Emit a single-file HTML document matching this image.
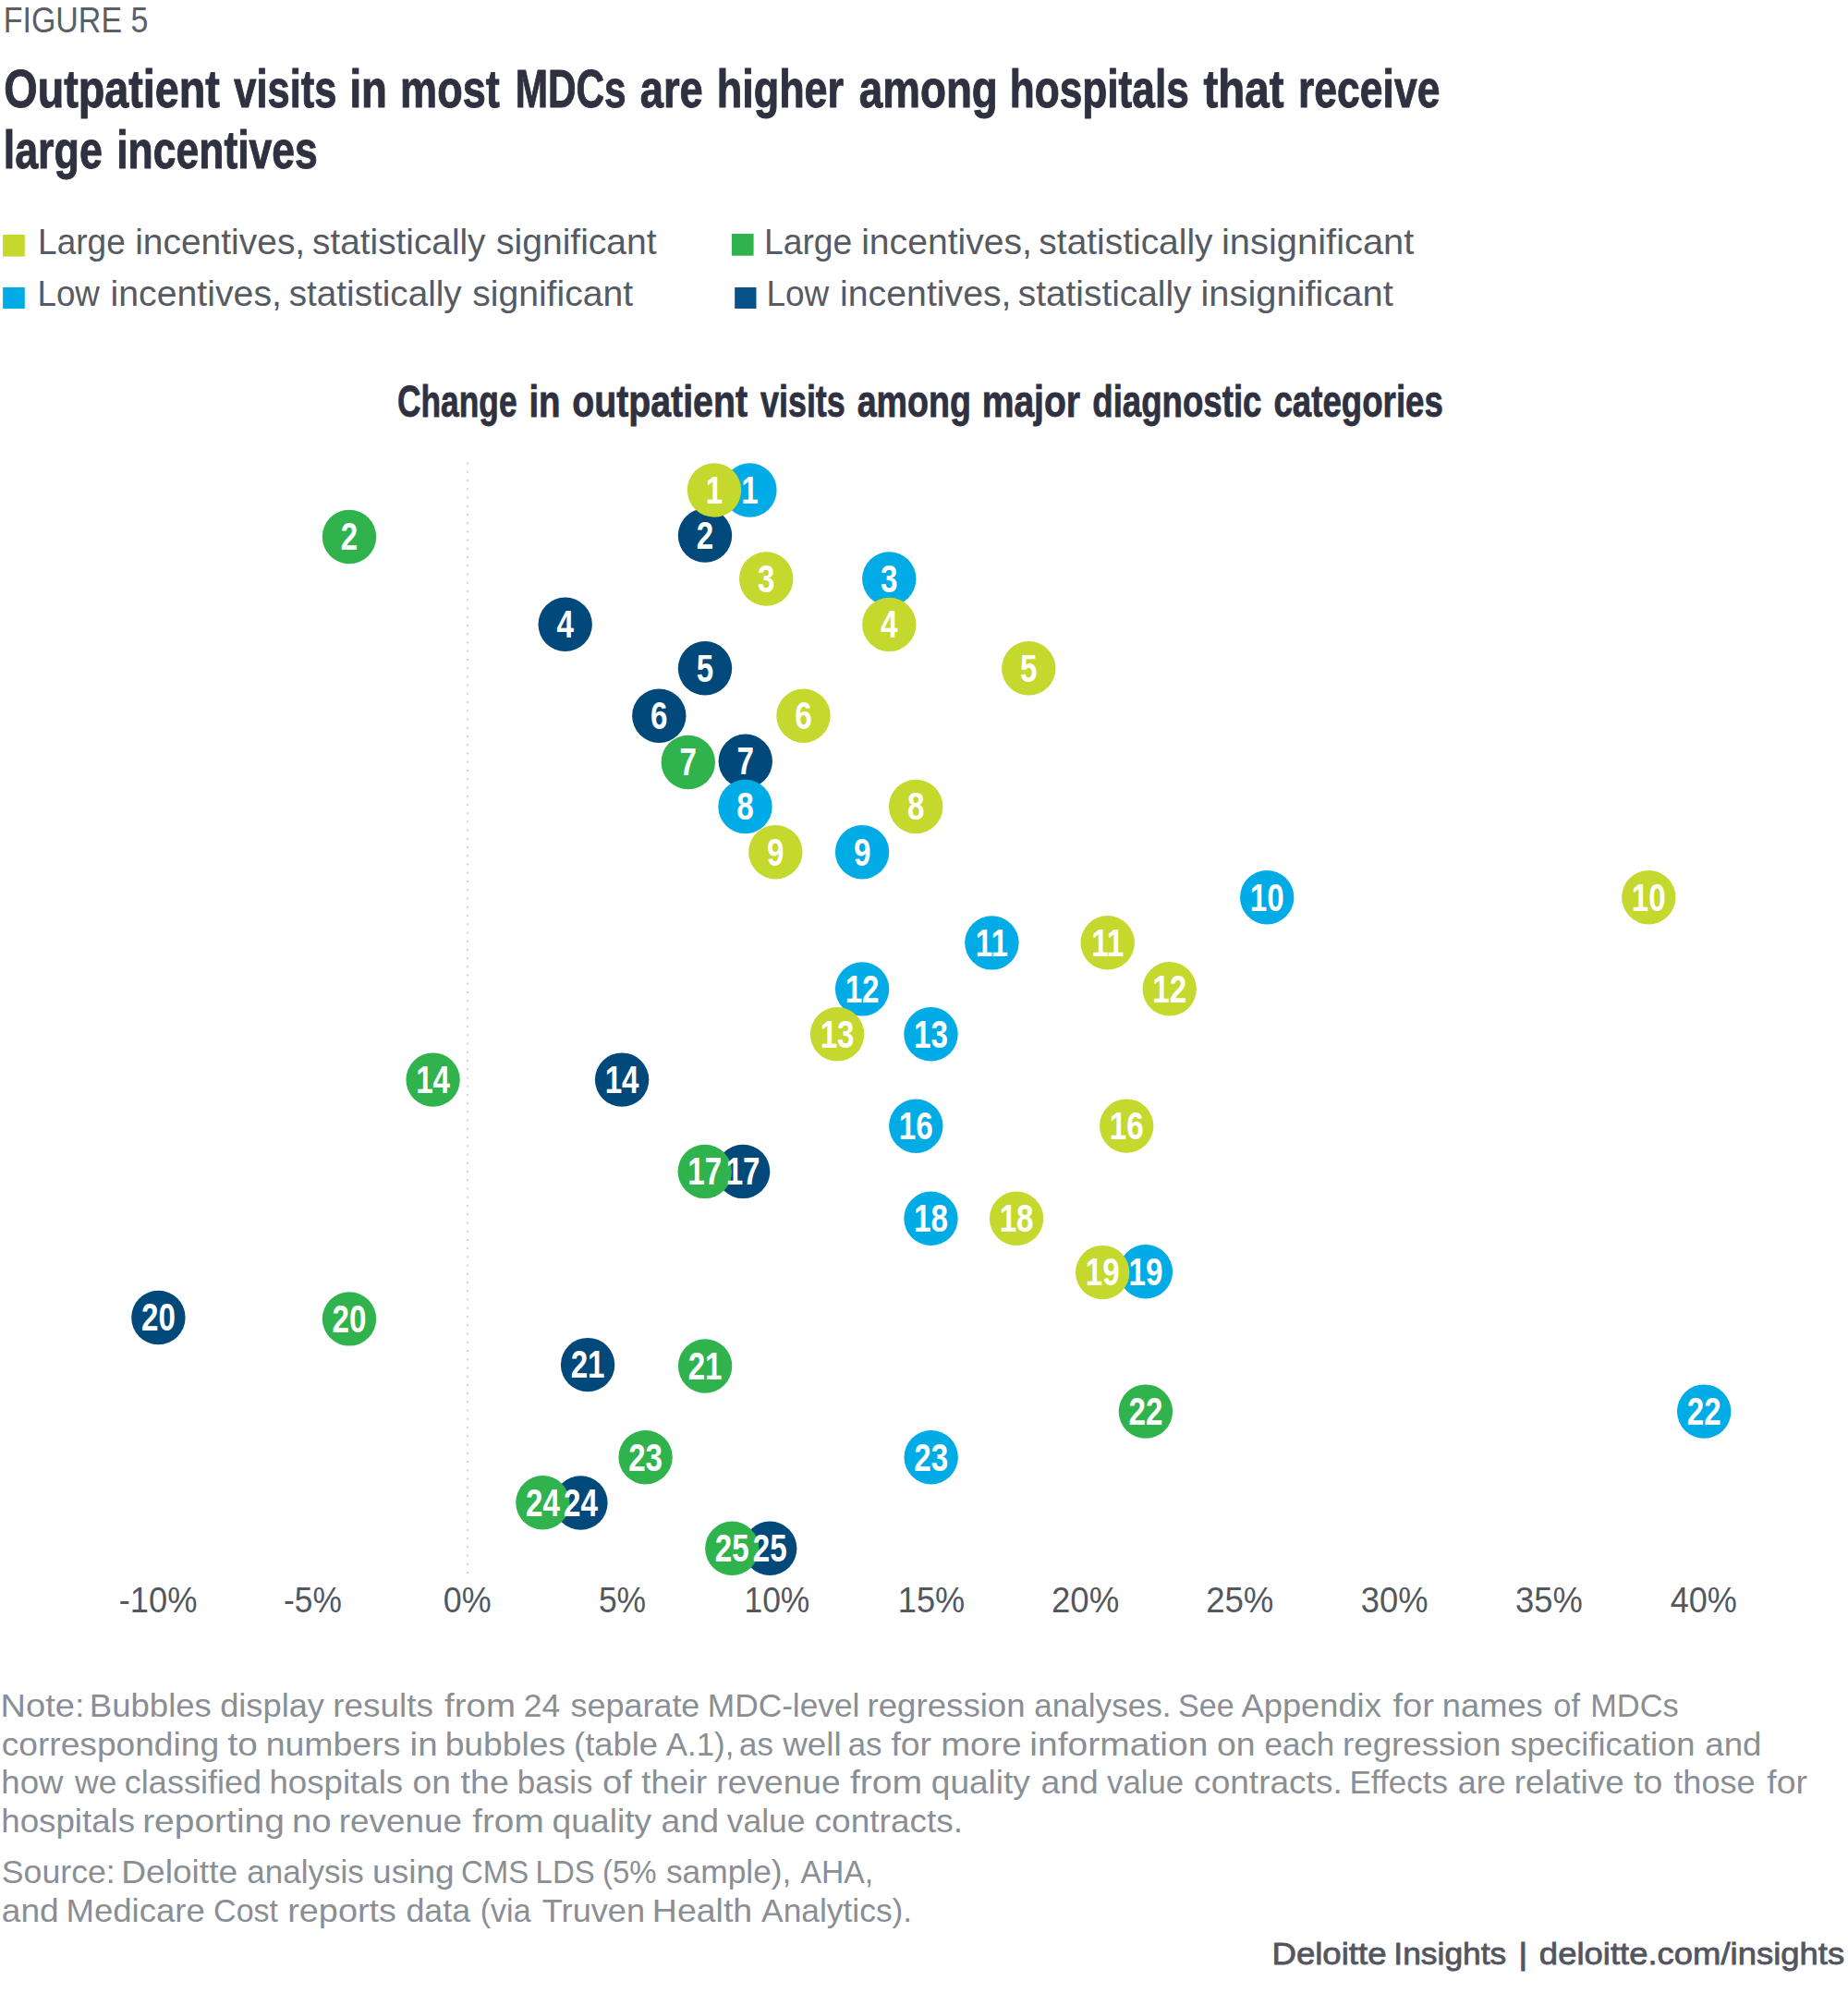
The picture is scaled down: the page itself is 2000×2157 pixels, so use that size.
<!DOCTYPE html>
<html lang="en"><head><meta charset="utf-8"><title>Figure 5</title>
<style>
html,body{margin:0;padding:0;background:#fff}
svg{display:block}
text{font-family:"Liberation Sans",sans-serif}
.n{font-weight:700;font-size:42px;fill:#fff;text-anchor:middle}
.ax{font-size:38.8px;fill:#53575e}
</style></head>
<body>
<svg width="2000" height="2157" viewBox="0 0 2000 2157">
<rect width="2000" height="2157" fill="#fff"/>
<rect x="3.1" y="253.9" width="23.7" height="23.7" fill="#c4d82e"/>
<rect x="3.1" y="311" width="23.7" height="23.1" fill="#00abe6"/>
<rect x="792" y="253" width="23.6" height="23.7" fill="#30b34d"/>
<rect x="795.2" y="311" width="23.3" height="23" fill="#07528a"/>
<line x1="505.9" y1="500.5" x2="505.9" y2="1703.2" stroke="#d0d3d1" stroke-width="2" stroke-dasharray="2 7.235"/>
<text y="35.00" font-size="38.8" fill="#5a5f67"><tspan x="3.75" textLength="156.63" lengthAdjust="spacingAndGlyphs">FIGURE 5</tspan></text>
<text y="115.60" font-size="57.6" font-weight="700" fill="#2f3140" stroke="#2f3140" stroke-width="1"><tspan x="4.34" textLength="233.59" lengthAdjust="spacingAndGlyphs">Outpatient</tspan> <tspan x="253.30" textLength="111.16" lengthAdjust="spacingAndGlyphs">visits</tspan> <tspan x="378.45" textLength="40.56" lengthAdjust="spacingAndGlyphs">in</tspan> <tspan x="433.08" textLength="107.64" lengthAdjust="spacingAndGlyphs">most</tspan> <tspan x="557.69" textLength="119.99" lengthAdjust="spacingAndGlyphs">MDCs</tspan> <tspan x="692.79" textLength="68.04" lengthAdjust="spacingAndGlyphs">are</tspan> <tspan x="775.69" textLength="137.45" lengthAdjust="spacingAndGlyphs">higher</tspan> <tspan x="929.78" textLength="150.04" lengthAdjust="spacingAndGlyphs">among</tspan> <tspan x="1092.74" textLength="194.05" lengthAdjust="spacingAndGlyphs">hospitals</tspan> <tspan x="1302.50" textLength="87.03" lengthAdjust="spacingAndGlyphs">that</tspan> <tspan x="1405.02" textLength="153.39" lengthAdjust="spacingAndGlyphs">receive</tspan></text>
<text y="182.00" font-size="57.6" font-weight="700" fill="#2f3140" stroke="#2f3140" stroke-width="1"><tspan x="3.70" textLength="107.22" lengthAdjust="spacingAndGlyphs">large</tspan> <tspan x="126.22" textLength="217.58" lengthAdjust="spacingAndGlyphs">incentives</tspan></text>
<text y="275.00" font-size="38.8" fill="#555a63"><tspan x="41.11" textLength="94.59" lengthAdjust="spacingAndGlyphs">Large</tspan> <tspan x="146.17" textLength="184.04" lengthAdjust="spacingAndGlyphs">incentives,</tspan> <tspan x="338.09" textLength="187.41" lengthAdjust="spacingAndGlyphs">statistically</tspan> <tspan x="536.99" textLength="173.68" lengthAdjust="spacingAndGlyphs">significant</tspan></text>
<text y="330.50" font-size="38.8" fill="#555a63"><tspan x="40.48" textLength="67.43" lengthAdjust="spacingAndGlyphs">Low</tspan> <tspan x="119.55" textLength="185.38" lengthAdjust="spacingAndGlyphs">incentives,</tspan> <tspan x="312.70" textLength="187.00" lengthAdjust="spacingAndGlyphs">statistically</tspan> <tspan x="511.19" textLength="173.88" lengthAdjust="spacingAndGlyphs">significant</tspan></text>
<text y="275.00" font-size="38.8" fill="#555a63"><tspan x="826.99" textLength="95.22" lengthAdjust="spacingAndGlyphs">Large</tspan> <tspan x="932.16" textLength="184.77" lengthAdjust="spacingAndGlyphs">incentives,</tspan> <tspan x="1124.39" textLength="188.11" lengthAdjust="spacingAndGlyphs">statistically</tspan> <tspan x="1322.01" textLength="208.36" lengthAdjust="spacingAndGlyphs">insignificant</tspan></text>
<text y="330.50" font-size="38.8" fill="#555a63"><tspan x="829.48" textLength="67.70" lengthAdjust="spacingAndGlyphs">Low</tspan> <tspan x="909.05" textLength="185.49" lengthAdjust="spacingAndGlyphs">incentives,</tspan> <tspan x="1101.79" textLength="187.71" lengthAdjust="spacingAndGlyphs">statistically</tspan> <tspan x="1299.51" textLength="208.25" lengthAdjust="spacingAndGlyphs">insignificant</tspan></text>
<text y="451.20" font-size="48.2" font-weight="700" fill="#2f3140" stroke="#2f3140" stroke-width="0.8"><tspan x="429.96" textLength="129.66" lengthAdjust="spacingAndGlyphs">Change</tspan> <tspan x="572.39" textLength="34.27" lengthAdjust="spacingAndGlyphs">in</tspan> <tspan x="619.17" textLength="189.82" lengthAdjust="spacingAndGlyphs">outpatient</tspan> <tspan x="823.10" textLength="91.65" lengthAdjust="spacingAndGlyphs">visits</tspan> <tspan x="927.71" textLength="123.29" lengthAdjust="spacingAndGlyphs">among</tspan> <tspan x="1062.66" textLength="106.40" lengthAdjust="spacingAndGlyphs">major</tspan> <tspan x="1182.25" textLength="183.26" lengthAdjust="spacingAndGlyphs">diagnostic</tspan> <tspan x="1378.45" textLength="183.43" lengthAdjust="spacingAndGlyphs">categories</tspan></text>
<text y="1857.90" font-size="35.8" fill="#8a8e95"><tspan x="0.63" textLength="90.91" lengthAdjust="spacingAndGlyphs">Note:</tspan> <tspan x="96.85" textLength="131.99" lengthAdjust="spacingAndGlyphs">Bubbles</tspan> <tspan x="238.17" textLength="112.83" lengthAdjust="spacingAndGlyphs">display</tspan> <tspan x="360.30" textLength="108.56" lengthAdjust="spacingAndGlyphs">results</tspan> <tspan x="481.04" textLength="76.92" lengthAdjust="spacingAndGlyphs">from</tspan> <tspan x="566.83" textLength="39.55" lengthAdjust="spacingAndGlyphs">24</tspan> <tspan x="617.54" textLength="139.82" lengthAdjust="spacingAndGlyphs">separate</tspan> <tspan x="765.84" textLength="164.58" lengthAdjust="spacingAndGlyphs">MDC-level</tspan> <tspan x="938.51" textLength="171.15" lengthAdjust="spacingAndGlyphs">regression</tspan> <tspan x="1119.20" textLength="148.37" lengthAdjust="spacingAndGlyphs">analyses.</tspan> <tspan x="1274.97" textLength="60.68" lengthAdjust="spacingAndGlyphs">See</tspan> <tspan x="1343.50" textLength="151.30" lengthAdjust="spacingAndGlyphs">Appendix</tspan> <tspan x="1507.50" textLength="44.49" lengthAdjust="spacingAndGlyphs">for</tspan> <tspan x="1560.83" textLength="108.90" lengthAdjust="spacingAndGlyphs">names</tspan> <tspan x="1681.33" textLength="28.66" lengthAdjust="spacingAndGlyphs">of</tspan> <tspan x="1721.21" textLength="95.46" lengthAdjust="spacingAndGlyphs">MDCs</tspan></text>
<text y="1899.50" font-size="35.8" fill="#8a8e95"><tspan x="1.74" textLength="235.35" lengthAdjust="spacingAndGlyphs">corresponding</tspan> <tspan x="246.60" textLength="32.37" lengthAdjust="spacingAndGlyphs">to</tspan> <tspan x="287.66" textLength="145.71" lengthAdjust="spacingAndGlyphs">numbers</tspan> <tspan x="443.59" textLength="29.97" lengthAdjust="spacingAndGlyphs">in</tspan> <tspan x="481.67" textLength="130.49" lengthAdjust="spacingAndGlyphs">bubbles</tspan> <tspan x="621.10" textLength="90.98" lengthAdjust="spacingAndGlyphs">(table</tspan> <tspan x="720.74" textLength="73.72" lengthAdjust="spacingAndGlyphs">A.1),</tspan> <tspan x="800.07" textLength="36.87" lengthAdjust="spacingAndGlyphs">as</tspan> <tspan x="847.18" textLength="63.45" lengthAdjust="spacingAndGlyphs">well</tspan> <tspan x="917.67" textLength="36.87" lengthAdjust="spacingAndGlyphs">as</tspan> <tspan x="964.40" textLength="43.68" lengthAdjust="spacingAndGlyphs">for</tspan> <tspan x="1018.20" textLength="87.35" lengthAdjust="spacingAndGlyphs">more</tspan> <tspan x="1114.26" textLength="193.13" lengthAdjust="spacingAndGlyphs">information</tspan> <tspan x="1317.03" textLength="41.57" lengthAdjust="spacingAndGlyphs">on</tspan> <tspan x="1368.51" textLength="75.75" lengthAdjust="spacingAndGlyphs">each</tspan> <tspan x="1453.00" textLength="171.46" lengthAdjust="spacingAndGlyphs">regression</tspan> <tspan x="1634.43" textLength="200.11" lengthAdjust="spacingAndGlyphs">specification</tspan> <tspan x="1845.25" textLength="61.31" lengthAdjust="spacingAndGlyphs">and</tspan></text>
<text y="1941.00" font-size="35.8" fill="#8a8e95"><tspan x="1.31" textLength="67.14" lengthAdjust="spacingAndGlyphs">how</tspan> <tspan x="81.05" textLength="45.38" lengthAdjust="spacingAndGlyphs">we</tspan> <tspan x="134.87" textLength="148.15" lengthAdjust="spacingAndGlyphs">classified</tspan> <tspan x="291.41" textLength="144.74" lengthAdjust="spacingAndGlyphs">hospitals</tspan> <tspan x="446.64" textLength="41.35" lengthAdjust="spacingAndGlyphs">on</tspan> <tspan x="498.50" textLength="52.33" lengthAdjust="spacingAndGlyphs">the</tspan> <tspan x="559.82" textLength="81.58" lengthAdjust="spacingAndGlyphs">basis</tspan> <tspan x="652.00" textLength="31.97" lengthAdjust="spacingAndGlyphs">of</tspan> <tspan x="694.30" textLength="70.88" lengthAdjust="spacingAndGlyphs">their</tspan> <tspan x="775.38" textLength="134.33" lengthAdjust="spacingAndGlyphs">revenue</tspan> <tspan x="919.90" textLength="78.33" lengthAdjust="spacingAndGlyphs">from</tspan> <tspan x="1007.84" textLength="107.06" lengthAdjust="spacingAndGlyphs">quality</tspan> <tspan x="1126.43" textLength="62.37" lengthAdjust="spacingAndGlyphs">and</tspan> <tspan x="1198.09" textLength="83.03" lengthAdjust="spacingAndGlyphs">value</tspan> <tspan x="1292.14" textLength="160.60" lengthAdjust="spacingAndGlyphs">contracts.</tspan> <tspan x="1460.46" textLength="106.53" lengthAdjust="spacingAndGlyphs">Effects</tspan> <tspan x="1577.78" textLength="51.98" lengthAdjust="spacingAndGlyphs">are</tspan> <tspan x="1638.69" textLength="119.11" lengthAdjust="spacingAndGlyphs">relative</tspan> <tspan x="1768.10" textLength="31.22" lengthAdjust="spacingAndGlyphs">to</tspan> <tspan x="1811.30" textLength="88.36" lengthAdjust="spacingAndGlyphs">those</tspan> <tspan x="1912.30" textLength="43.68" lengthAdjust="spacingAndGlyphs">for</tspan></text>
<text y="1982.60" font-size="35.8" fill="#8a8e95"><tspan x="1.31" textLength="144.84" lengthAdjust="spacingAndGlyphs">hospitals</tspan> <tspan x="154.17" textLength="153.72" lengthAdjust="spacingAndGlyphs">reporting</tspan> <tspan x="315.90" textLength="42.76" lengthAdjust="spacingAndGlyphs">no</tspan> <tspan x="366.80" textLength="133.20" lengthAdjust="spacingAndGlyphs">revenue</tspan> <tspan x="511.20" textLength="77.51" lengthAdjust="spacingAndGlyphs">from</tspan> <tspan x="597.64" textLength="107.46" lengthAdjust="spacingAndGlyphs">quality</tspan> <tspan x="715.63" textLength="62.37" lengthAdjust="spacingAndGlyphs">and</tspan> <tspan x="786.70" textLength="84.84" lengthAdjust="spacingAndGlyphs">value</tspan> <tspan x="881.64" textLength="160.40" lengthAdjust="spacingAndGlyphs">contracts.</tspan></text>
<text y="2038.00" font-size="35.8" fill="#8a8e95"><tspan x="1.79" textLength="122.94" lengthAdjust="spacingAndGlyphs">Source:</tspan> <tspan x="131.18" textLength="125.93" lengthAdjust="spacingAndGlyphs">Deloitte</tspan> <tspan x="267.21" textLength="126.59" lengthAdjust="spacingAndGlyphs">analysis</tspan> <tspan x="403.09" textLength="88.49" lengthAdjust="spacingAndGlyphs">using</tspan> <tspan x="499.07" textLength="73.19" lengthAdjust="spacingAndGlyphs">CMS</tspan> <tspan x="579.62" textLength="64.07" lengthAdjust="spacingAndGlyphs">LDS</tspan> <tspan x="652.03" textLength="58.57" lengthAdjust="spacingAndGlyphs">(5%</tspan> <tspan x="720.95" textLength="135.49" lengthAdjust="spacingAndGlyphs">sample),</tspan> <tspan x="866.50" textLength="78.62" lengthAdjust="spacingAndGlyphs">AHA,</tspan></text>
<text y="2079.80" font-size="35.8" fill="#8a8e95"><tspan x="1.74" textLength="61.94" lengthAdjust="spacingAndGlyphs">and</tspan> <tspan x="71.44" textLength="150.44" lengthAdjust="spacingAndGlyphs">Medicare</tspan> <tspan x="231.07" textLength="69.95" lengthAdjust="spacingAndGlyphs">Cost</tspan> <tspan x="311.24" textLength="117.75" lengthAdjust="spacingAndGlyphs">reports</tspan> <tspan x="439.38" textLength="69.79" lengthAdjust="spacingAndGlyphs">data</tspan> <tspan x="519.74" textLength="54.82" lengthAdjust="spacingAndGlyphs">(via</tspan> <tspan x="586.83" textLength="111.30" lengthAdjust="spacingAndGlyphs">Truven</tspan> <tspan x="705.87" textLength="108.33" lengthAdjust="spacingAndGlyphs">Health</tspan> <tspan x="824.10" textLength="163.09" lengthAdjust="spacingAndGlyphs">Analytics).</tspan></text>
<text y="2125.70" font-size="33.5" fill="#53565f" stroke="#53565f" stroke-width="0.8"><tspan x="1376.44" textLength="124.14" lengthAdjust="spacingAndGlyphs">Deloitte</tspan> <tspan x="1508.34" textLength="121.97" lengthAdjust="spacingAndGlyphs">Insights</tspan> <tspan x="1643.25" textLength="10.08" lengthAdjust="spacingAndGlyphs">|</tspan> <tspan x="1665.86" textLength="330.28" lengthAdjust="spacingAndGlyphs">deloitte.com/insights</tspan></text>
<g class="ax">
<text x="128.77" y="1745.2" textLength="84.71" lengthAdjust="spacingAndGlyphs">-10%</text>
<text x="307.10" y="1745.2" textLength="62.86" lengthAdjust="spacingAndGlyphs">-5%</text>
<text x="479.78" y="1745.2" textLength="51.89" lengthAdjust="spacingAndGlyphs">0%</text>
<text x="647.89" y="1745.2" textLength="51.26" lengthAdjust="spacingAndGlyphs">5%</text>
<text x="805.49" y="1745.2" textLength="70.87" lengthAdjust="spacingAndGlyphs">10%</text>
<text x="971.79" y="1745.2" textLength="72.34" lengthAdjust="spacingAndGlyphs">15%</text>
<text x="1137.98" y="1745.2" textLength="73.31" lengthAdjust="spacingAndGlyphs">20%</text>
<text x="1305.13" y="1745.2" textLength="73.31" lengthAdjust="spacingAndGlyphs">25%</text>
<text x="1472.86" y="1745.2" textLength="72.72" lengthAdjust="spacingAndGlyphs">30%</text>
<text x="1640.01" y="1745.2" textLength="72.72" lengthAdjust="spacingAndGlyphs">35%</text>
<text x="1807.74" y="1745.2" textLength="72.14" lengthAdjust="spacingAndGlyphs">40%</text>
</g>
<g>
<circle cx="811.4" cy="530.5" r="29.2" fill="#00abe6"/>
<circle cx="763.0" cy="579.6" r="29.2" fill="#00497a"/>
<circle cx="962.3" cy="626.5" r="29.2" fill="#00abe6"/>
<circle cx="611.7" cy="675.8" r="29.2" fill="#00497a"/>
<circle cx="763.0" cy="723.3" r="29.2" fill="#00497a"/>
<circle cx="713.3" cy="774.7" r="29.2" fill="#00497a"/>
<circle cx="806.8" cy="823.8" r="29.2" fill="#00497a"/>
<circle cx="806.5" cy="873.0" r="29.2" fill="#00abe6"/>
<circle cx="933.1" cy="922.2" r="29.2" fill="#00abe6"/>
<circle cx="1371.2" cy="971.2" r="29.2" fill="#00abe6"/>
<circle cx="1073.4" cy="1020.4" r="29.2" fill="#00abe6"/>
<circle cx="933.1" cy="1070.4" r="29.2" fill="#00abe6"/>
<circle cx="1007.5" cy="1119.3" r="29.2" fill="#00abe6"/>
<circle cx="673.1" cy="1168.6" r="29.2" fill="#00497a"/>
<circle cx="991.3" cy="1218.7" r="29.2" fill="#00abe6"/>
<circle cx="804.1" cy="1267.9" r="29.2" fill="#00497a"/>
<circle cx="1007.5" cy="1318.8" r="29.2" fill="#00abe6"/>
<circle cx="1239.9" cy="1376.3" r="29.2" fill="#00abe6"/>
<circle cx="171.4" cy="1426.0" r="29.2" fill="#00497a"/>
<circle cx="636.1" cy="1477.1" r="29.2" fill="#00497a"/>
<circle cx="1844.2" cy="1527.6" r="29.2" fill="#00abe6"/>
<circle cx="1007.7" cy="1577.2" r="29.2" fill="#00abe6"/>
<circle cx="628.4" cy="1626.5" r="29.2" fill="#00497a"/>
<circle cx="833.2" cy="1675.8" r="29.2" fill="#00497a"/>
<circle cx="773.0" cy="530.5" r="29.2" fill="#c4d82e"/>
<circle cx="378.0" cy="581.0" r="29.2" fill="#30b34d"/>
<circle cx="829.2" cy="626.5" r="29.2" fill="#c4d82e"/>
<circle cx="962.3" cy="675.9" r="29.2" fill="#c4d82e"/>
<circle cx="1113.3" cy="723.3" r="29.2" fill="#c4d82e"/>
<circle cx="869.5" cy="774.7" r="29.2" fill="#c4d82e"/>
<circle cx="744.8" cy="825.0" r="29.2" fill="#30b34d"/>
<circle cx="991.2" cy="873.0" r="29.2" fill="#c4d82e"/>
<circle cx="839.3" cy="922.2" r="29.2" fill="#c4d82e"/>
<circle cx="1784.3" cy="971.2" r="29.2" fill="#c4d82e"/>
<circle cx="1198.7" cy="1020.3" r="29.2" fill="#c4d82e"/>
<circle cx="1265.7" cy="1070.3" r="29.2" fill="#c4d82e"/>
<circle cx="906.1" cy="1119.3" r="29.2" fill="#c4d82e"/>
<circle cx="468.6" cy="1168.6" r="29.2" fill="#30b34d"/>
<circle cx="1219.2" cy="1218.6" r="29.2" fill="#c4d82e"/>
<circle cx="762.8" cy="1267.9" r="29.2" fill="#30b34d"/>
<circle cx="1100.1" cy="1318.8" r="29.2" fill="#c4d82e"/>
<circle cx="1193.2" cy="1377.1" r="29.2" fill="#c4d82e"/>
<circle cx="378.0" cy="1427.4" r="29.2" fill="#30b34d"/>
<circle cx="763.1" cy="1478.5" r="29.2" fill="#30b34d"/>
<circle cx="1239.9" cy="1527.6" r="29.2" fill="#30b34d"/>
<circle cx="698.6" cy="1577.2" r="29.2" fill="#30b34d"/>
<circle cx="587.4" cy="1626.3" r="29.2" fill="#30b34d"/>
<circle cx="792.3" cy="1675.8" r="29.2" fill="#30b34d"/>
</g>
<g class="n">
<text transform="translate(811.4 544.8) scale(0.79 1)">1</text>
<text transform="translate(763.0 593.9) scale(0.79 1)">2</text>
<text transform="translate(962.3 640.8) scale(0.79 1)">3</text>
<text transform="translate(611.7 690.1) scale(0.79 1)">4</text>
<text transform="translate(763.0 737.6) scale(0.79 1)">5</text>
<text transform="translate(713.3 789.0) scale(0.79 1)">6</text>
<text transform="translate(806.8 838.1) scale(0.79 1)">7</text>
<text transform="translate(806.5 887.3) scale(0.79 1)">8</text>
<text transform="translate(933.1 936.5) scale(0.79 1)">9</text>
<text transform="translate(1371.2 985.5) scale(0.79 1)">10</text>
<text transform="translate(1073.4 1034.7) scale(0.79 1)">11</text>
<text transform="translate(933.1 1084.7) scale(0.79 1)">12</text>
<text transform="translate(1007.5 1133.6) scale(0.79 1)">13</text>
<text transform="translate(673.1 1182.9) scale(0.79 1)">14</text>
<text transform="translate(991.3 1233.0) scale(0.79 1)">16</text>
<text transform="translate(804.1 1282.2) scale(0.79 1)">17</text>
<text transform="translate(1007.5 1333.1) scale(0.79 1)">18</text>
<text transform="translate(1239.9 1390.6) scale(0.79 1)">19</text>
<text transform="translate(171.4 1440.3) scale(0.79 1)">20</text>
<text transform="translate(636.1 1491.4) scale(0.79 1)">21</text>
<text transform="translate(1844.2 1541.9) scale(0.79 1)">22</text>
<text transform="translate(1007.7 1591.5) scale(0.79 1)">23</text>
<text transform="translate(628.4 1640.8) scale(0.79 1)">24</text>
<text transform="translate(833.2 1690.1) scale(0.79 1)">25</text>
<text transform="translate(773.0 544.8) scale(0.79 1)">1</text>
<text transform="translate(378.0 595.3) scale(0.79 1)">2</text>
<text transform="translate(829.2 640.8) scale(0.79 1)">3</text>
<text transform="translate(962.3 690.2) scale(0.79 1)">4</text>
<text transform="translate(1113.3 737.6) scale(0.79 1)">5</text>
<text transform="translate(869.5 789.0) scale(0.79 1)">6</text>
<text transform="translate(744.8 839.3) scale(0.79 1)">7</text>
<text transform="translate(991.2 887.3) scale(0.79 1)">8</text>
<text transform="translate(839.3 936.5) scale(0.79 1)">9</text>
<text transform="translate(1784.3 985.5) scale(0.79 1)">10</text>
<text transform="translate(1198.7 1034.6) scale(0.79 1)">11</text>
<text transform="translate(1265.7 1084.6) scale(0.79 1)">12</text>
<text transform="translate(906.1 1133.6) scale(0.79 1)">13</text>
<text transform="translate(468.6 1182.9) scale(0.79 1)">14</text>
<text transform="translate(1219.2 1232.9) scale(0.79 1)">16</text>
<text transform="translate(762.8 1282.2) scale(0.79 1)">17</text>
<text transform="translate(1100.1 1333.1) scale(0.79 1)">18</text>
<text transform="translate(1193.2 1391.4) scale(0.79 1)">19</text>
<text transform="translate(378.0 1441.7) scale(0.79 1)">20</text>
<text transform="translate(763.1 1492.8) scale(0.79 1)">21</text>
<text transform="translate(1239.9 1541.9) scale(0.79 1)">22</text>
<text transform="translate(698.6 1591.5) scale(0.79 1)">23</text>
<text transform="translate(587.4 1640.6) scale(0.79 1)">24</text>
<text transform="translate(792.3 1690.1) scale(0.79 1)">25</text>
</g>
</svg>
</body></html>
